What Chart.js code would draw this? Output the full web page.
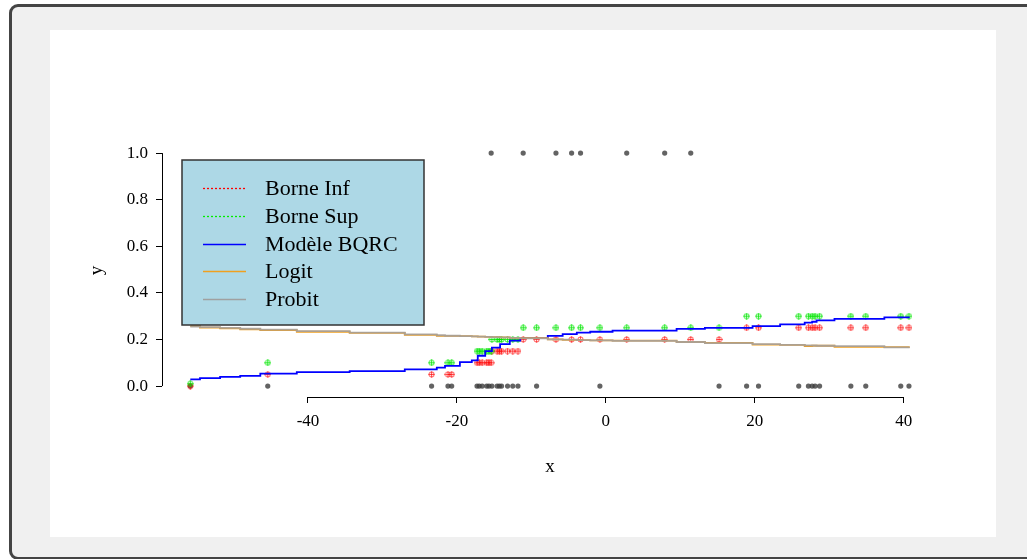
<!DOCTYPE html>
<html>
<head>
<meta charset="utf-8">
<script src="https://cdn.jsdelivr.net/npm/chart.js@4.4.1/dist/chart.umd.min.js"></script>
<style>
  html, body { margin: 0; padding: 0; background: #fff; width: 1027px; height: 559px; overflow: hidden; }
  #frame { position: absolute; left: 9px; top: 4px; width: 1040px; height: 550px; border: 3px solid #444; border-radius: 9px; background: #f0f0f0; }
  #plot { position: absolute; left: 50px; top: 30px; background: #fff; }
</style>
</head>
<body>
<div id="frame"></div>
<canvas id="plot" width="946" height="507"></canvas>
<script>
// observations (x, y) and the interval bounds at each one
var obsX = [-55.8, -45.4, -23.4, -21.2, -20.7, -17.3, -17.0, -16.6, -16.0, -15.7, -15.4, -15.3, -14.6, -14.3, -14.0, -13.2, -12.5, -11.8,
  -11.1, -9.3, -6.7, -4.6, -3.4, -0.8, 2.8, 7.9, 11.4, 15.2, 18.9, 20.5, 25.9, 27.2, 27.7, 28.1, 28.7, 32.9, 34.9, 39.6, 40.7];
var obsY = [0, 0, 0, 0, 0, 0, 0, 0, 0, 0, 1, 0, 0, 0, 0, 0, 0, 0,
  1, 0, 1, 1, 1, 0, 1, 1, 1, 0, 0, 0, 0, 0, 0, 0, 0, 0, 0, 0, 0];
var borneInf = [0, 0.05, 0.05, 0.05, 0.05, 0.1, 0.1, 0.1, 0.1, 0.1, 0.1, 0.15, 0.15, 0.15, 0.15, 0.15, 0.15, 0.15,
  0.2, 0.2, 0.2, 0.2, 0.2, 0.2, 0.2, 0.2, 0.2, 0.2, 0.25, 0.25, 0.25, 0.25, 0.25, 0.25, 0.25, 0.25, 0.25, 0.25, 0.25];
var borneSup = [0.01, 0.1, 0.1, 0.1, 0.1, 0.15, 0.15, 0.15, 0.15, 0.15, 0.15, 0.2, 0.2, 0.2, 0.2, 0.2, 0.2, 0.2,
  0.25, 0.25, 0.25, 0.25, 0.25, 0.25, 0.25, 0.25, 0.25, 0.25, 0.3, 0.3, 0.3, 0.3, 0.3, 0.3, 0.3, 0.3, 0.3, 0.3, 0.3];

// fitted curves (step functions)
var stepX = [-55.8, -54.5, -51.8, -49.1, -46.4, -41.5, -34.4, -27.0, -22.7, -21.6, -19.6, -18.0, -17.2, -16.2, -15.3, -14.2, -12.9,
  -11.5, -7.8, -5.8, -3.9, -2.1, 0.9, 9.5, 13.3, 19.7, 23.4, 26.7, 27.7, 28.3, 30.7, 37.4, 40.8];
var bqrc = [0.029, 0.034, 0.039, 0.044, 0.053, 0.060, 0.064, 0.072, 0.079, 0.087, 0.103, 0.110, 0.130, 0.150, 0.165, 0.180, 0.195,
  0.206, 0.215, 0.223, 0.229, 0.233, 0.238, 0.245, 0.250, 0.257, 0.265, 0.272, 0.276, 0.282, 0.288, 0.295, 0.295];
var logit = [0.257, 0.251, 0.248, 0.243, 0.240, 0.233, 0.228, 0.220, 0.215, 0.215, 0.214, 0.213, 0.212, 0.211, 0.210, 0.209, 0.207,
  0.206, 0.200, 0.198, 0.197, 0.196, 0.195, 0.189, 0.185, 0.178, 0.177, 0.172, 0.173, 0.173, 0.168, 0.167, 0.167];
var probit = [0.255, 0.253, 0.250, 0.246, 0.242, 0.236, 0.229, 0.222, 0.218, 0.216, 0.214, 0.213, 0.212, 0.211, 0.210, 0.209, 0.207,
  0.205, 0.200, 0.199, 0.197, 0.196, 0.194, 0.189, 0.184, 0.180, 0.177, 0.175, 0.174, 0.173, 0.171, 0.166, 0.166];

var xTicks = [-40, -20, 0, 20, 40];
var yTicks = [0, 0.2, 0.4, 0.6, 0.8, 1.0];

var serif = '"Liberation Serif", "Times New Roman", serif';

function pairs(xs, ys) {
  return xs.map(function (x, i) { return { x: x, y: ys[i] }; });
}

// small circle-with-plus marker
function marker(color) {
  var c = document.createElement('canvas');
  c.width = 7; c.height = 7;
  var g = c.getContext('2d');
  g.strokeStyle = color;
  g.lineWidth = 1;
  g.beginPath(); g.arc(3.5, 3.5, 2.6, 0, Math.PI * 2); g.stroke();
  g.beginPath(); g.moveTo(3.5, 0.5); g.lineTo(3.5, 6.5); g.moveTo(0.5, 3.5); g.lineTo(6.5, 3.5); g.stroke();
  return c;
}

var legendItems = [
  { label: 'Borne Inf', color: '#ff0000', dash: [2, 2], width: 1.3 },
  { label: 'Borne Sup', color: '#00ee00', dash: [2, 2], width: 1.3 },
  { label: 'Modèle BQRC', color: '#0000ff', dash: [], width: 1.5 },
  { label: 'Logit', color: '#f0a020', dash: [], width: 1.5 },
  { label: 'Probit', color: '#a0a0a0', dash: [], width: 1.5 }
];

var rAxes = {
  id: 'rAxes',
  afterDraw: function (chart) {
    var ctx = chart.ctx, a = chart.chartArea;
    var sx = chart.scales.x, sy = chart.scales.y;
    ctx.save();
    ctx.strokeStyle = '#000';
    ctx.lineWidth = 1;
    ctx.beginPath();
    ctx.moveTo(sx.getPixelForValue(xTicks[0]), a.bottom + 0.5);
    ctx.lineTo(sx.getPixelForValue(xTicks[xTicks.length - 1]), a.bottom + 0.5);
    ctx.moveTo(a.left + 0.5, sy.getPixelForValue(yTicks[0]));
    ctx.lineTo(a.left + 0.5, sy.getPixelForValue(yTicks[yTicks.length - 1]));
    ctx.stroke();
    ctx.restore();
  }
};

var boxLegend = {
  id: 'boxLegend',
  afterDraw: function (chart) {
    var ctx = chart.ctx, a = chart.chartArea;
    var x0 = a.left + 20, y0 = a.top + 16, w = 242, h = 165;
    ctx.save();
    ctx.fillStyle = '#add8e6';
    ctx.fillRect(x0, y0, w, h);
    ctx.strokeStyle = '#333';
    ctx.lineWidth = 1.5;
    ctx.strokeRect(x0, y0, w, h);
    ctx.font = '22px ' + serif;
    ctx.textBaseline = 'middle';
    legendItems.forEach(function (it, i) {
      var y = Math.round(y0 + 28 + i * 27.75) + 0.5;
      ctx.strokeStyle = it.color;
      ctx.lineWidth = it.width;
      ctx.setLineDash(it.dash);
      ctx.beginPath();
      ctx.moveTo(x0 + 21, y);
      ctx.lineTo(x0 + 64, y);
      ctx.stroke();
      ctx.setLineDash([]);
      ctx.fillStyle = '#000';
      ctx.fillText(it.label, x0 + 83, y + 1);
    });
    ctx.restore();
  }
};

function stepLine(label, ys, color, order) {
  return {
    type: 'line', label: label, data: pairs(stepX, ys),
    borderColor: color, borderWidth: 1.8, stepped: true,
    pointRadius: 0, fill: false, order: order
  };
}

new Chart(document.getElementById('plot').getContext('2d'), {
  type: 'scatter',
  data: {
    datasets: [
      stepLine('Probit', probit, 'rgba(165,160,155,0.9)', 1),
      stepLine('Logit', logit, '#f0a020', 2),
      stepLine('Modèle BQRC', bqrc, '#0000ff', 3),
      { label: 'Borne Sup', data: pairs(obsX, borneSup), pointStyle: marker('rgba(0,230,0,0.8)'), order: 4 },
      { label: 'Borne Inf', data: pairs(obsX, borneInf), pointStyle: marker('rgba(255,0,0,0.7)'), order: 5 },
      { label: 'y', data: pairs(obsX, obsY), pointRadius: 2.6, backgroundColor: 'rgba(60,60,60,0.8)', borderWidth: 0, order: 6 }
    ]
  },
  options: {
    responsive: false,
    animation: false,
    layout: { padding: { left: 36, top: 114, right: 58, bottom: 59 } },
    plugins: { legend: { display: false }, tooltip: { enabled: false } },
    scales: {
      x: {
        type: 'linear', min: -59.6, max: 44.6,
        afterBuildTicks: function (s) { s.ticks = xTicks.map(function (v) { return { value: v }; }); },
        afterFit: function (s) { s.height = 81; },
        grid: { drawOnChartArea: false, drawTicks: true, tickLength: 6, color: '#000' },
        border: { display: false },
        ticks: { color: '#000', padding: 8, font: { family: serif, size: 17 }, maxRotation: 0,
          callback: function (v) { return String(v); } },
        title: { display: true, text: 'x', color: '#000', padding: 0, font: { family: serif, size: 19 } }
      },
      y: {
        type: 'linear', min: -0.047, max: 1.039,
        afterBuildTicks: function (s) { s.ticks = yTicks.map(function (v) { return { value: v }; }); },
        afterFit: function (s) { s.width = 76; },
        grid: { drawOnChartArea: false, drawTicks: true, tickLength: 6, color: '#000' },
        border: { display: false },
        ticks: { color: '#000', padding: 8, font: { family: serif, size: 17 },
          callback: function (v) { return v.toFixed(1); } },
        title: { display: true, text: 'y', color: '#000', padding: 0, font: { family: serif, size: 19 } }
      }
    }
  },
  plugins: [rAxes, boxLegend]
});
</script>
</body>
</html>
